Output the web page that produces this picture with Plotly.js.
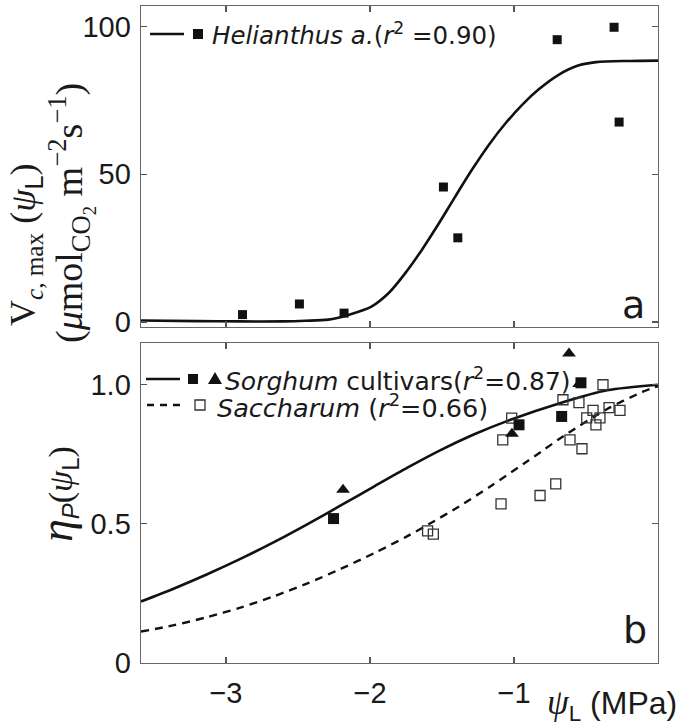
<!DOCTYPE html>
<html>
<head>
<meta charset="utf-8">
<script src="https://cdn.plot.ly/plotly-3.0.1.min.js"></script>
<style>body{margin:0;padding:0;background:#fff}#chart{width:680px;height:727px}</style>
</head>
<body>
<div id="chart"></div>
<script>
// ---- Panel a: Helianthus annuus ----
var helX = [-2.885, -2.49, -2.18, -1.49, -1.39, -0.70, -0.305, -0.27];
var helY = [2.5, 6.1, 3.0, 45.7, 28.5, 95.6, 99.8, 67.7];
var helFitX = [-3.59, -3.2, -2.9, -2.6, -2.45, -2.29, -2.15, -1.99, -1.87, -1.76, -1.64, -1.52, -1.41, -1.29, -1.17, -1.06, -0.94, -0.83, -0.69, -0.55, -0.43, -0.20, 0];
var helFitY = [0.5, 0.3, 0.2, 0.2, 0.4, 0.8, 2.4, 5.2, 9.8, 16.2, 24.4, 33.5, 42.3, 51.7, 60.3, 67.2, 73.7, 78.7, 83.7, 86.9, 88.0, 88.4, 88.5];

// ---- Panel b: Sorghum cultivars and Saccharum ----
var sorSqX = [-2.253, -0.965, -0.669, -0.535];
var sorSqY = [0.519, 0.856, 0.886, 1.007];
var sorTriX = [-2.187, -1.014, -0.618, -0.548];
var sorTriY = [0.623, 0.824, 1.112, 1.003];
var sacX = [-1.60, -1.56, -1.016, -1.078, -1.090, -0.819, -0.710, -0.660, -0.611, -0.549, -0.528, -0.495, -0.451, -0.431, -0.403, -0.382, -0.340, -0.264];
var sacY = [0.475, 0.463, 0.880, 0.802, 0.572, 0.602, 0.644, 0.946, 0.802, 0.936, 0.770, 0.881, 0.908, 0.856, 0.881, 1.0, 0.918, 0.908];
var sorFitX = [-3.59, -3.36, -3.13, -2.90, -2.66, -2.43, -2.20, -1.97, -1.74, -1.51, -1.28, -1.04, -0.655, -0.353, 0];
var sorFitY = [0.221, 0.268, 0.319, 0.374, 0.436, 0.500, 0.567, 0.635, 0.702, 0.765, 0.821, 0.871, 0.938, 0.980, 1.0];
var sacFitX = [-3.59, -3.36, -3.13, -2.90, -2.66, -2.43, -2.20, -1.97, -1.74, -1.58, -1.39, -1.16, -0.93, -0.81, -0.655, -0.353, -0.104, 0];
var sacFitY = [0.113, 0.136, 0.165, 0.199, 0.241, 0.287, 0.339, 0.395, 0.456, 0.502, 0.560, 0.636, 0.717, 0.760, 0.816, 0.913, 0.975, 0.995];

var xTicks = [-3, -2, -1];
var xTickText = ['\u22123', '\u22122', '\u22121'];
var yTicksA = [0, 50, 100];
var yTickTextA = ['0', '50', '100'];
var yTicksB = [0, 0.5, 1.0];
var yTickTextB = ['0', '0.5', '1.0'];

var INK = '#111';
var traces = [
  {x: helFitX, y: helFitY, xaxis: 'x', yaxis: 'y', mode: 'lines', line: {color: INK, width: 2.6, shape: 'spline', smoothing: 0.8}},
  {x: helX, y: helY, xaxis: 'x', yaxis: 'y', mode: 'markers', marker: {symbol: 'square', size: 9, color: INK}},
  {x: sorFitX, y: sorFitY, xaxis: 'x2', yaxis: 'y2', mode: 'lines', line: {color: INK, width: 2.6, shape: 'spline', smoothing: 0.8}},
  {x: sacFitX, y: sacFitY, xaxis: 'x2', yaxis: 'y2', mode: 'lines', line: {color: INK, width: 2.4, dash: '8px,6px', shape: 'spline', smoothing: 0.8}},
  {x: sacX, y: sacY, xaxis: 'x2', yaxis: 'y2', mode: 'markers', marker: {symbol: 'square-open', size: 10, color: '#333', line: {width: 1.3}}},
  {x: sorTriX, y: sorTriY, xaxis: 'x2', yaxis: 'y2', mode: 'markers', marker: {symbol: 'triangle-up', size: 12, color: INK}},
  {x: sorSqX, y: sorSqY, xaxis: 'x2', yaxis: 'y2', mode: 'markers', marker: {symbol: 'square', size: 11, color: INK}}
];

var tickFont = {family: 'Liberation Sans, Arial, sans-serif', size: 29, color: '#1a1a1a'};
function xAx(showLabels, anchor) {
  return {domain: [0, 1], anchor: anchor, range: [-3.59, 0], tickmode: 'array', tickvals: xTicks, ticktext: xTickText,
    showticklabels: showLabels, ticks: 'inside', ticklen: 6, tickwidth: 1.2, tickcolor: '#555',
    showline: true, linecolor: '#666', linewidth: 1.4, mirror: 'ticks', showgrid: false, zeroline: false,
    tickfont: tickFont, ticklabelstandoff: 4};
}
function yAx(domain, range, vals, text, anchor) {
  return {domain: domain, anchor: anchor, range: range, tickmode: 'array', tickvals: vals, ticktext: text,
    ticks: 'inside', ticklen: 6, tickwidth: 1.2, tickcolor: '#555',
    showline: true, linecolor: '#666', linewidth: 1.4, mirror: 'ticks', showgrid: false, zeroline: false,
    tickfont: tickFont, ticklabelstandoff: 3};
}

// paper-coordinate helpers for legend glyphs (plot area: x 141..658, y 6..663 px)
function px(v) { return (v - 141) / 517; }
function py(v) { return (663 - v) / 657; }

var shapes = [
  // legend a
  {type: 'line', xref: 'paper', yref: 'paper', x0: px(150), x1: px(184), y0: py(34), y1: py(34), line: {color: INK, width: 2.6}},
  {type: 'rect', xref: 'paper', yref: 'paper', x0: px(193), x1: px(203), y0: py(39), y1: py(29), fillcolor: INK, line: {width: 0}},
  // legend b, line 1
  {type: 'line', xref: 'paper', yref: 'paper', x0: px(146), x1: px(180), y0: py(379), y1: py(379), line: {color: INK, width: 2.6}},
  {type: 'rect', xref: 'paper', yref: 'paper', x0: px(188), x1: px(198), y0: py(384), y1: py(374), fillcolor: INK, line: {width: 0}},
  {type: 'path', xref: 'paper', yref: 'paper', path: 'M' + px(215) + ',' + py(372) + ' L' + px(208) + ',' + py(384) + ' L' + px(222) + ',' + py(384) + ' Z', fillcolor: INK, line: {width: 0}},
  // legend b, line 2
  {type: 'line', xref: 'paper', yref: 'paper', x0: px(147), x1: px(181), y0: py(405), y1: py(405), line: {color: INK, width: 2.4, dash: '7px,6px'}},
  {type: 'rect', xref: 'paper', yref: 'paper', x0: px(195), x1: px(205), y0: py(410), y1: py(400), fillcolor: 'rgba(0,0,0,0)', line: {color: '#333', width: 1.3}}
];

var legFontA = {family: 'DejaVu Sans, Verdana, sans-serif', size: 24.5, color: '#1a1a1a'};
var legFontB1 = {family: 'DejaVu Sans, Verdana, sans-serif', size: 25, color: '#1a1a1a'};
var legFontB2 = {family: 'DejaVu Sans, Verdana, sans-serif', size: 25.5, color: '#1a1a1a'};
var serif = 'Liberation Serif, Times New Roman, serif';
var sans = 'Liberation Sans,Arial,sans-serif';
var annotations = [
  {xref: 'paper', yref: 'paper', x: px(210), y: py(34), xanchor: 'left', yanchor: 'middle', showarrow: false, font: legFontA,
   text: '<i>Helianthus a.</i>(<i>r</i><sup>2</sup> =0.90)'},
  {xref: 'paper', yref: 'paper', x: px(223), y: py(379), xanchor: 'left', yanchor: 'middle', showarrow: false, font: legFontB1,
   text: '<i>Sorghum</i> cultivars(<i>r</i><sup>2</sup>=0.87)'},
  {xref: 'paper', yref: 'paper', x: px(215), y: py(406), xanchor: 'left', yanchor: 'middle', showarrow: false, font: legFontB2,
   text: '<i>Saccharum</i> (<i>r</i><sup>2</sup>=0.66)'},
  // panel letters
  {xref: 'paper', yref: 'paper', x: px(647), y: py(305), xanchor: 'right', yanchor: 'middle', showarrow: false,
   font: {family: 'DejaVu Sans, Verdana, sans-serif', size: 38, color: '#1a1a1a'}, text: 'a'},
  {xref: 'paper', yref: 'paper', x: px(649), y: py(630), xanchor: 'right', yanchor: 'middle', showarrow: false,
   font: {family: 'DejaVu Sans, Verdana, sans-serif', size: 38, color: '#1a1a1a'}, text: 'b'},
  // x title
  {xref: 'paper', yref: 'paper', x: px(679), y: py(704), xanchor: 'right', yanchor: 'middle', showarrow: false,
   font: {family: sans, size: 32, color: '#1a1a1a'},
   text: '<span style="font-family:Liberation Serif,serif;font-style:italic;font-size:35px">ψ</span><sub>L</sub> (MPa)'},
  // y title a (two lines)
  {xref: 'paper', yref: 'paper', x: px(25), y: py(245), xanchor: 'center', yanchor: 'middle', textangle: -90, showarrow: false,
   font: {family: serif, size: 36, color: '#1a1a1a'},
   text: 'V<sub><i>c</i>, max</sub> (<i>ψ</i><sub><span style="font-family:' + sans + '">L</span></sub>)'},
  {xref: 'paper', yref: 'paper', x: px(71), y: py(213), xanchor: 'center', yanchor: 'middle', textangle: -90, showarrow: false,
   font: {family: serif, size: 38, color: '#1a1a1a'},
   text: '(<i>μ</i>mol<sub>CO<sub>2</sub></sub> m<sup>\u22122</sup>s<sup>\u22121</sup>)'},
  // y title b
  {xref: 'paper', yref: 'paper', x: px(57), y: py(494), xanchor: 'center', yanchor: 'middle', textangle: -90, showarrow: false,
   font: {family: serif, size: 34, color: '#1a1a1a'},
   text: '<span style="font-size:46px;font-style:italic">η</span><sub><span style="font-family:' + sans + ';font-style:italic">P</span></sub>(<i>ψ</i><sub><span style="font-family:' + sans + '">L</span></sub>)'}
];

var layout = {
  width: 680, height: 727,
  margin: {l: 141, r: 22, t: 6, b: 64},
  paper_bgcolor: '#fff', plot_bgcolor: '#fff',
  showlegend: false,
  xaxis: xAx(false, 'y'),
  yaxis: yAx([py(327), 1], [-1.7, 107], yTicksA, yTickTextA, 'x'),
  xaxis2: xAx(true, 'y2'),
  yaxis2: yAx([0, py(343)], [0, 1.15], yTicksB, yTickTextB, 'x2'),
  shapes: shapes,
  annotations: annotations
};

Plotly.newPlot('chart', traces, layout, {staticPlot: true, displayModeBar: false});
</script>
</body>
</html>
